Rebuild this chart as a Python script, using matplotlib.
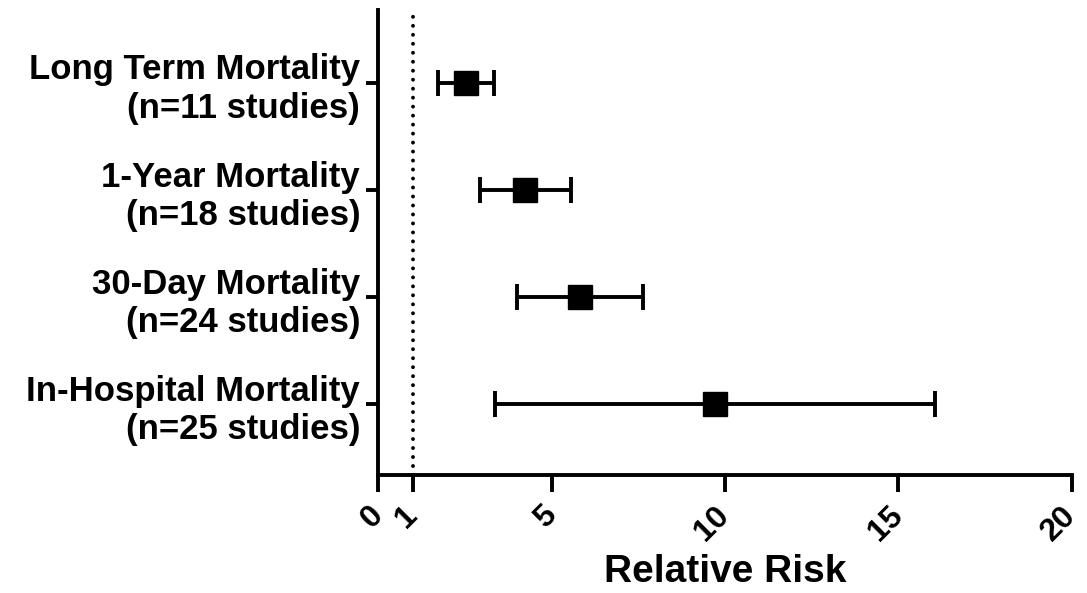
import matplotlib.pyplot as plt
import numpy as np

# Forest plot data (relative risk with 95% CI), top to bottom
labels = [
    "Long Term Mortality\n(n=11 studies)",
    "1-Year Mortality\n(n=18 studies)",
    "30-Day Mortality\n(n=24 studies)",
    "In-Hospital Mortality\n(n=25 studies)",
]
rr = [2.53, 4.24, 5.82, 9.72]
ci_low = [1.72, 2.92, 4.00, 3.37]
ci_high = [3.35, 5.55, 7.63, 16.06]
xticks = [0, 1, 5, 10, 15, 20]

plt.rcParams["font.family"] = ["Liberation Sans", "DejaVu Sans"]
plt.rcParams["font.weight"] = "bold"

fig = plt.figure(figsize=(10.87, 5.93), dpi=100)
ax = fig.add_axes([0.348, 0.199, 0.638, 0.784])

y = np.arange(len(labels))
rr = np.array(rr)
err = [rr - np.array(ci_low), np.array(ci_high) - rr]

LW = 2.8
ax.axvline(1, color="black", lw=LW, linestyle=(0, (0.01, 2.3)), dash_capstyle="round")
ax.errorbar(rr, y, xerr=err, fmt="s", color="black", ms=17, elinewidth=LW,
            capsize=9.4, capthick=LW)

ax.set_xlim(0, 20)
ax.set_ylim(3.66, -0.68)
ax.set_xticks(xticks)
ax.set_xticklabels([str(t) for t in xticks], rotation=45, fontsize=23,
                   fontweight="bold", ha="right", va="center",
                   rotation_mode="anchor")
ax.set_yticks(y)
ax.set_yticklabels(labels, fontsize=25, fontweight="bold", ha="right",
                   multialignment="right", linespacing=1.2)
ax.set_xlabel("Relative Risk", fontsize=28, fontweight="bold", labelpad=5)

for s in ["top", "right"]:
    ax.spines[s].set_visible(False)
for s in ["left", "bottom"]:
    ax.spines[s].set_linewidth(LW)
ax.tick_params(axis="x", length=12, width=LW, pad=14)
ax.tick_params(axis="y", length=9, width=LW, pad=4)

fig.savefig("out.png", dpi=100)
